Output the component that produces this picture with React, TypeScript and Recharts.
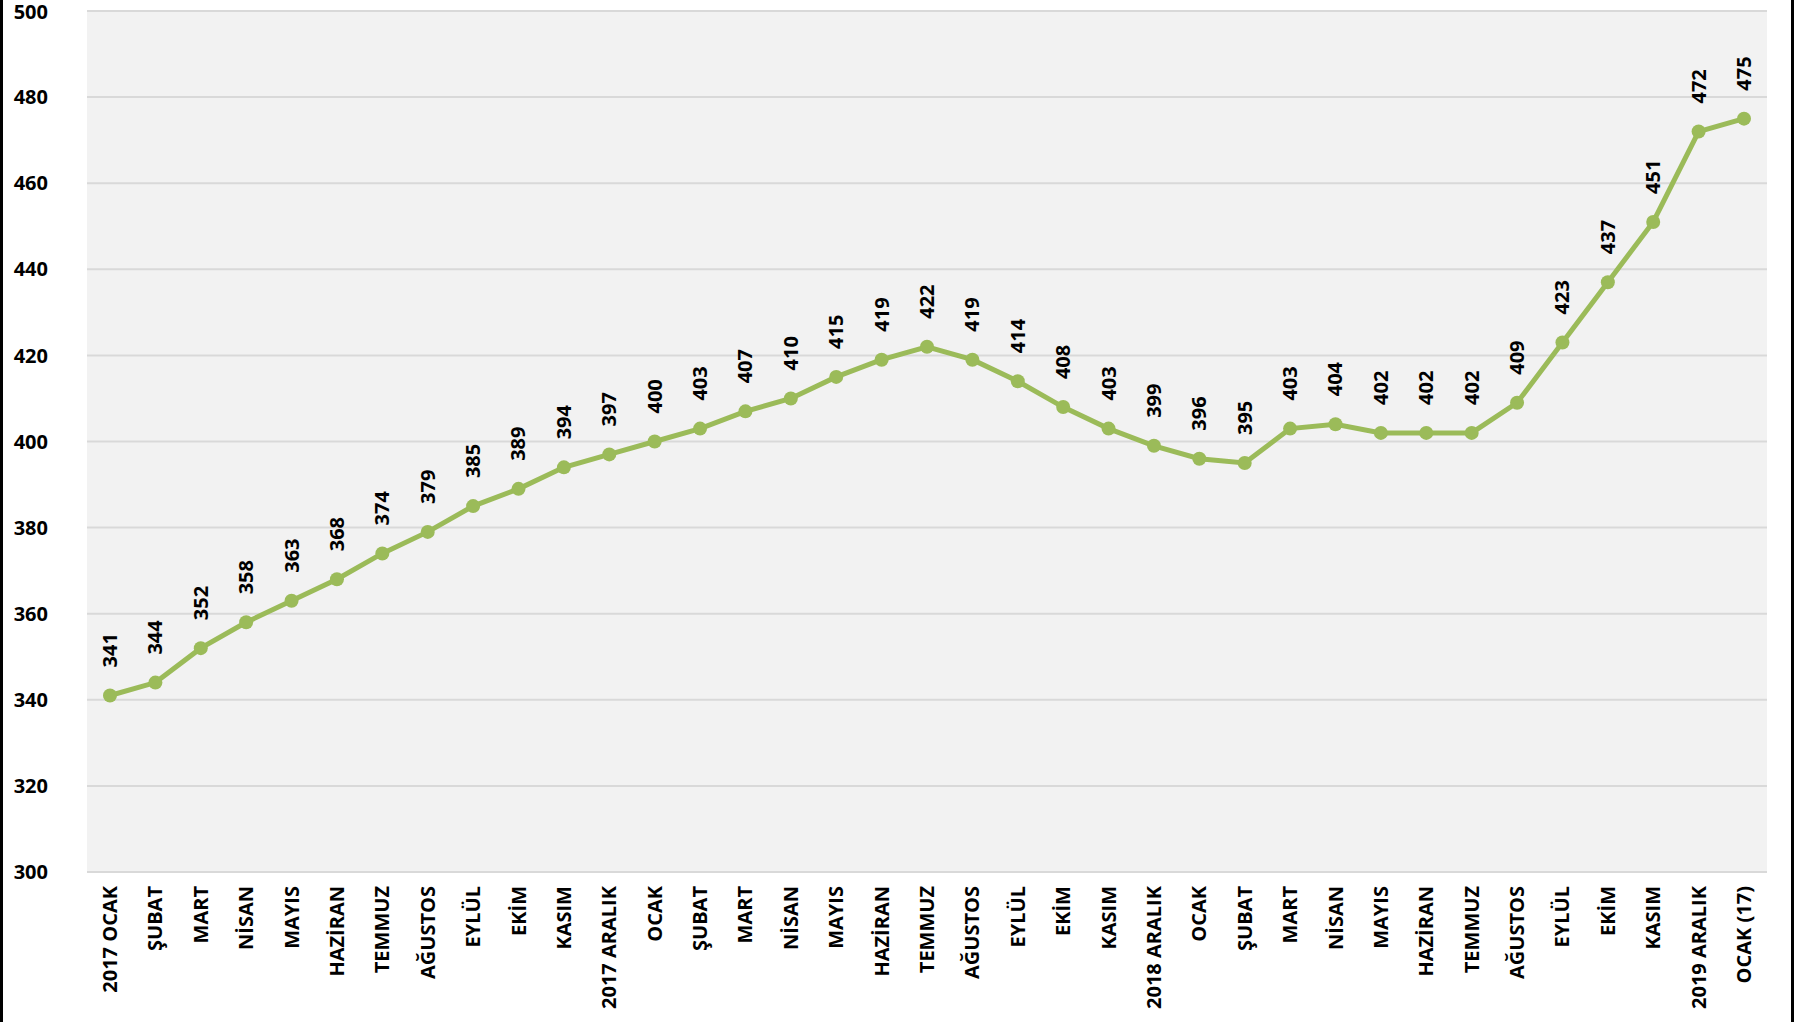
import React from 'react';
import { LineChart, Line, XAxis, YAxis, CartesianGrid } from 'recharts';

const months = [
  '2017 OCAK', 'ŞUBAT', 'MART', 'NİSAN', 'MAYIS', 'HAZİRAN', 'TEMMUZ', 'AĞUSTOS', 'EYLÜL', 'EKİM', 'KASIM', '2017 ARALIK',
  'OCAK', 'ŞUBAT', 'MART', 'NİSAN', 'MAYIS', 'HAZİRAN', 'TEMMUZ', 'AĞUSTOS', 'EYLÜL', 'EKİM', 'KASIM', '2018 ARALIK',
  'OCAK', 'ŞUBAT', 'MART', 'NİSAN', 'MAYIS', 'HAZİRAN', 'TEMMUZ', 'AĞUSTOS', 'EYLÜL', 'EKİM', 'KASIM', '2019 ARALIK',
  'OCAK (17)',
];

const values = [
  341, 344, 352, 358, 363, 368, 374, 379, 385, 389, 394, 397,
  400, 403, 407, 410, 415, 419, 422, 419, 414, 408, 403, 399,
  396, 395, 403, 404, 402, 402, 402, 409, 423, 437, 451, 472,
  475,
];

const yTicks = [300, 320, 340, 360, 380, 400, 420, 440, 460, 480, 500];

const data = months.map((month, i) => ({ month, value: values[i] }));

const FONT = '"Open Sans", sans-serif';
const GREEN = '#9bbb59';

const renderXTick = (props: any) => {
  const { x, payload } = props;
  const y = 886;
  return (
    <text
      x={x}
      y={y}
      transform={`rotate(-90, ${x}, ${y})`}
      textAnchor="end"
      dy="0.35em"
      fontFamily={FONT}
      fontWeight={700}
      fontSize={20}
      fill="#000"
    >
      {payload.value}
    </text>
  );
};

const renderValueLabel = (props: any) => {
  const { x, y, value } = props;
  const ly = y - 28;
  return (
    <text
      x={x}
      y={ly}
      transform={`rotate(-90, ${x}, ${ly})`}
      textAnchor="start"
      dy="0.35em"
      fontFamily={FONT}
      fontWeight={700}
      fontSize={20}
      fill="#000"
    >
      {value}
    </text>
  );
};

export default function App() {
  return (
    <div
      style={{
        position: 'absolute',
        left: 0,
        top: 0,
        width: 1794,
        height: 1022,
        background: '#fff',
        boxSizing: 'border-box',
        borderLeft: '3px solid #000',
        borderRight: '3px solid #000',
      }}
    >
      <div style={{ position: 'absolute', left: -3, top: 0 }}>
        <LineChart
          width={1794}
          height={1022}
          data={data}
          margin={{ top: 11, right: 27, left: 0, bottom: 0 }}
        >
          <CartesianGrid vertical={false} stroke="#d9d9d9" strokeWidth={2} fill="#f2f2f2" />
          <XAxis
            dataKey="month"
            interval={0}
            height={150}
            padding={{ left: 23, right: 23 }}
            axisLine={false}
            tickLine={false}
            tick={renderXTick}
          />
          <YAxis
            domain={[300, 500]}
            ticks={yTicks}
            width={87}
            axisLine={false}
            tickLine={false}
            tickSize={0}
            tickMargin={39}
            tick={{ fontFamily: FONT, fontWeight: 700, fontSize: 20, fill: '#000' }}
          />
          <Line
            type="linear"
            dataKey="value"
            stroke={GREEN}
            strokeWidth={5}
            dot={{ r: 7, fill: GREEN, stroke: GREEN, strokeWidth: 0 }}
            activeDot={false}
            isAnimationActive={false}
            label={renderValueLabel}
          />
        </LineChart>
      </div>
    </div>
  );
}
